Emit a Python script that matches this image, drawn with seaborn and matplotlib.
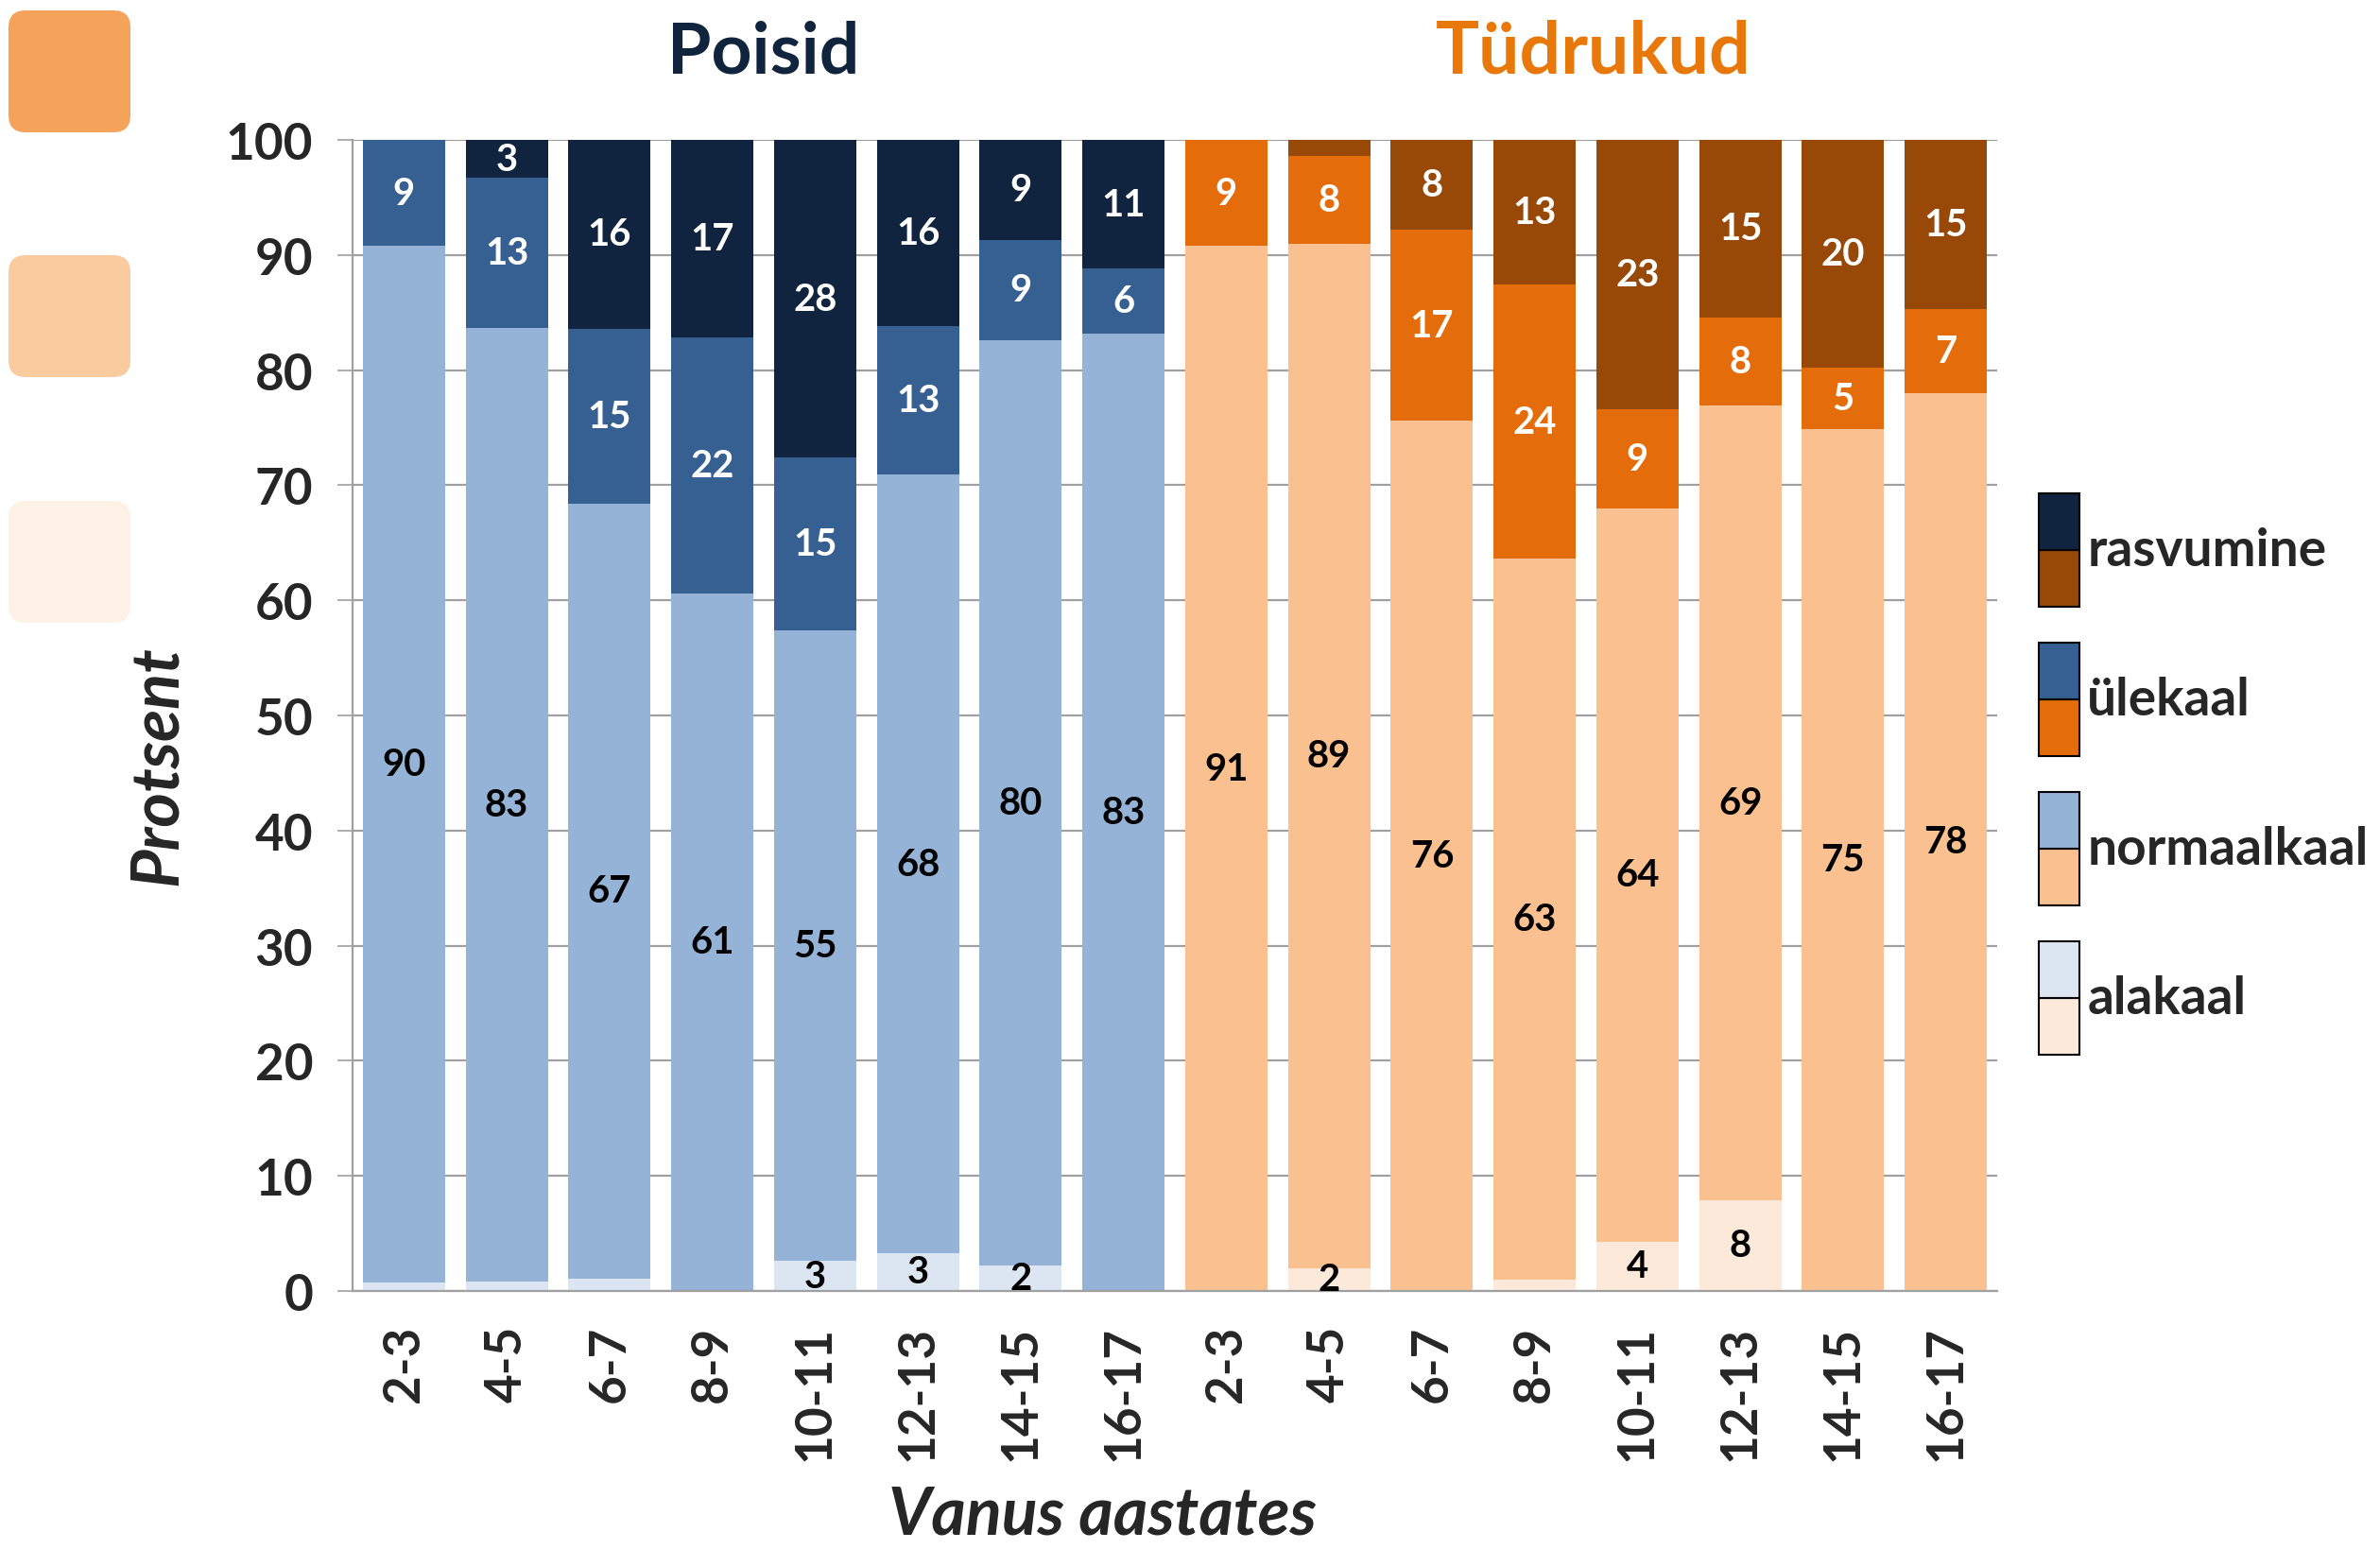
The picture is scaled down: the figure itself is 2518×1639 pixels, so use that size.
"""
Kehakaal vanuse järgi: poisid ja tüdrukud, virnastatud tulbad
"""

import numpy as np
import pandas as pd
import seaborn as sns
import matplotlib.pyplot as plt
from matplotlib.patches import Rectangle, FancyBboxPatch
from matplotlib.legend_handler import HandlerBase
from matplotlib.transforms import blended_transform_factory

DPI = 100
W, H = 2518, 1640

ages = ["2-3", "4-5", "6-7", "8-9", "10-11", "12-13", "14-15", "16-17"]
groups = ["Poisid", "Tüdrukud"]
layers = ["alakaal", "normaalkaal", "ülekaal", "rasvumine"]

# percentages (labels are these values rounded)
boys_alakaal = [0.7, 0.8, 1.1, 0.0, 2.6, 3.3, 2.2, 0.0]
boys_normaalkaal = [90.1, 82.9, 67.3, 60.6, 54.8, 67.6, 80.4, 83.2]
boys_ulekaal = [9.2, 13.0, 15.2, 22.2, 15.0, 12.9, 8.7, 5.6]
boys_rasvumine = [0.0, 3.3, 16.4, 17.2, 27.6, 16.2, 8.7, 11.2]

girls_alakaal = [0.0, 2.0, 0.0, 1.0, 4.3, 7.9, 0.0, 0.0]
girls_normaalkaal = [90.8, 89.0, 75.6, 62.6, 63.7, 69.0, 74.9, 78.0]
girls_ulekaal = [9.2, 7.6, 16.6, 23.8, 8.6, 7.7, 5.3, 7.3]
girls_rasvumine = [0.0, 1.4, 7.8, 12.6, 23.4, 15.4, 19.8, 14.7]

colors = {
    "alakaal": {"Poisid": "#DCE6F2", "Tüdrukud": "#FDE9D9"},
    "normaalkaal": {"Poisid": "#95B3D7", "Tüdrukud": "#FAC090"},
    "ülekaal": {"Poisid": "#376092", "Tüdrukud": "#E46C0A"},
    "rasvumine": {"Poisid": "#10243F", "Tüdrukud": "#984807"},
}
label_color = {"alakaal": "black", "normaalkaal": "black",
               "ülekaal": "white", "rasvumine": "white"}
grid_gray = "#A0A0A0"


def px(p):
    # pixels -> points
    return p * 72 / DPI


df = pd.DataFrame({
    "pos": np.arange(16),
    "group": ["Poisid"] * 8 + ["Tüdrukud"] * 8,
    "age": ages * 2,
    "alakaal": boys_alakaal + girls_alakaal,
    "normaalkaal": boys_normaalkaal + girls_normaalkaal,
    "ülekaal": boys_ulekaal + girls_ulekaal,
    "rasvumine": boys_rasvumine + girls_rasvumine,
})
df[[f"top_{l}" for l in layers]] = df[layers].cumsum(axis=1).values

sns.set_style("white")
plt.rcParams["font.family"] = ["Lato", "DejaVu Sans"]

fig = plt.figure(figsize=(W / DPI, H / DPI), dpi=DPI)
ax = fig.add_axes([373 / W, 1 - 1367 / H, 1740 / W, 1218 / H])

# stacked bars: draw cumulative tops from the highest layer down
for layer in reversed(layers):
    sns.barplot(data=df, x="pos", y=f"top_{layer}", hue="group",
                palette=colors[layer], dodge=False, width=0.8, saturation=1,
                errorbar=None, legend=False, linewidth=0, ax=ax)

# value labels
for layer in layers:
    top = df[f"top_{layer}"].values
    val = df[layer].values
    for x, t, v in zip(df["pos"], top, val):
        if round(v) >= 2:
            ax.text(x, t - v / 2, str(int(round(v))), ha="center", va="center",
                    fontsize=px(40), fontweight="bold", color=label_color[layer])

ax.set_xlim(-0.5, 15.5)
ax.set_ylim(0, 100)
ax.set_yticks(np.arange(0, 101, 10))
ax.set_xticks(np.arange(16), labels=df["age"], rotation=90)
ax.set_xticks(np.arange(-0.5, 16, 1), minor=True)
ax.tick_params(axis="x", which="major", length=0, pad=px(36),
               labelsize=px(53))
ax.tick_params(axis="x", which="minor", length=px(16), width=1.2,
               color=grid_gray, direction="out")
ax.tick_params(axis="y", length=px(16), width=1.2, color=grid_gray,
               direction="out", pad=px(26), labelsize=px(53), left=True)
for lab in ax.get_xticklabels() + ax.get_yticklabels():
    lab.set_fontweight("bold")

ax.set_xlabel("")
ax.set_ylabel("")
ax.yaxis.grid(True, color=grid_gray, lw=1.6)
ax.set_axisbelow(True)
sns.despine(ax=ax)
for s in ("left", "bottom"):
    ax.spines[s].set_color(grid_gray)
    ax.spines[s].set_linewidth(1.6)

# group titles
tr = blended_transform_factory(ax.transData, fig.transFigure)
ax.text(3.5, 1 - 77 / H, "Poisid", transform=tr, ha="center", va="baseline",
        fontsize=px(75), fontweight="bold", color="#10243E")
ax.text(11.57, 1 - 77 / H, "Tüdrukud", transform=tr, ha="center",
        va="baseline", fontsize=px(77), fontweight="bold", color="#E8780A")

fig.text(166 / W, 1 - 810 / H, "Protsent", rotation=90, ha="center",
         va="center", fontsize=px(70), fontweight="bold", style="italic")
fig.text(1166 / W, 1 - 1624 / H, "Vanus aastates", ha="center",
         va="baseline", fontsize=px(70), fontweight="bold", style="italic")


# legend with two-colour swatches (boys on top, girls below)
class SplitSwatch(HandlerBase):
    def create_artists(self, legend, orig_handle, xdescent, ydescent,
                       width, height, fontsize, trans):
        upper, lower = orig_handle
        x0, y0 = -xdescent, -ydescent
        lo = Rectangle((x0, y0), width, height / 2, facecolor=lower,
                       edgecolor="black", lw=1.5, transform=trans)
        hi = Rectangle((x0, y0 + height / 2), width, height / 2,
                       facecolor=upper, edgecolor="black", lw=1.5,
                       transform=trans)
        return [lo, hi]


LEG_FS = 55
leg_layers = list(reversed(layers))
handles = [(colors[l]["Poisid"], colors[l]["Tüdrukud"]) for l in leg_layers]
fig.legend(handles, leg_layers, handler_map={tuple: SplitSwatch()},
           loc="upper left", bbox_to_anchor=(2157 / W, 1 - 523 / H),
           bbox_transform=fig.transFigure, frameon=False, borderpad=0,
           borderaxespad=0, handlelength=43 / LEG_FS,
           handleheight=(120 / LEG_FS - 0.245) / 0.65,
           handletextpad=0.15, labelspacing=38 / LEG_FS,
           prop={"family": ["Lato", "DejaVu Sans"], "weight": "bold",
                 "size": px(LEG_FS)})

# decorative rounded squares in the top-left corner
for y_top, fc in [(12, "#F5A25A"), (271, "#F9CB9F"), (531, "#FEF1E6")]:
    sq = FancyBboxPatch((9 / W, 1 - (y_top + 129) / H), 129 / W, 129 / H,
                        boxstyle=f"round,pad=0,rounding_size={18 / W}",
                        mutation_aspect=W / H, transform=fig.transFigure,
                        facecolor=fc, edgecolor="none")
    fig.add_artist(sq)

fig.savefig("out.png", dpi=DPI)
